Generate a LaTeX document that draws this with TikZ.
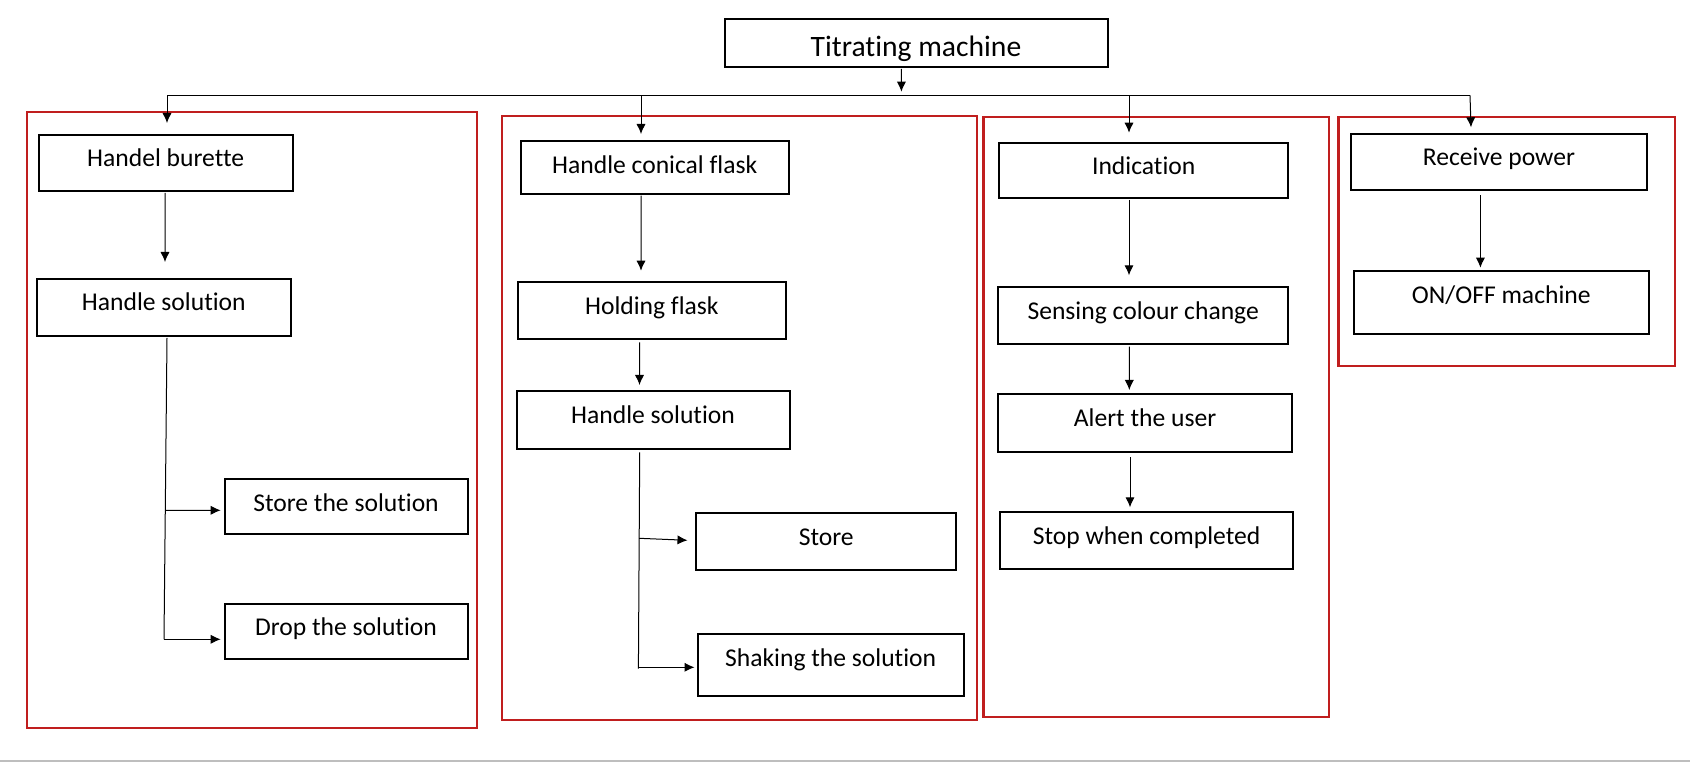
\documentclass[tikz,border=0pt]{standalone}
\usepackage{fontspec}
\setmainfont{Carlito}[Ligatures=NoCommon]
\usetikzlibrary{arrows.meta}
\definecolor{framered}{RGB}{192,30,30}
\definecolor{rulegray}{RGB}{190,190,190}
\newcommand{\blockbox}[7]{%
  \node[box, minimum width={(#4-#2)*0.5pt}, minimum height={(#5-#3)*0.5pt}] (#1) at ({(#2+#4)/2},{(#3+#5)/2}) {};
  \node[txt] (#1-t) at ({(#2+#4)/2},#7) {#6};
}
\begin{document}
\begin{tikzpicture}[x=0.5pt,y=-0.5pt,
  box/.style={draw=black, line width=1pt, inner sep=0pt, outer sep=0pt},
  txt/.style={anchor=base, inner sep=0pt, font=\fontsize{12.8}{15}\selectfont},
  frame/.style={draw=framered, line width=1.1pt},
  conn/.style={draw=black, line width=0.5pt},
  arr/.style={conn, -{Latex[length=5pt,width=4.6pt]}}]
\useasboundingbox (0,0) rectangle (1690,763);
% red frames
\draw[frame] (27,112) rectangle (477,727.7);
\draw[frame] (502,115.7) rectangle (977,720);
\draw[frame] (983.5,116.7) rectangle (1329,717);
\draw[frame] (1338.5,117.3) rectangle (1674.8,365.7);
% boxes
\node[box, minimum width={(1107.6-724.5)*0.5pt}, minimum height={(67-19.3)*0.5pt}] (title) at ({(724.5+1107.6)/2},{(19.3+67)/2}) {};
\node[txt, font=\fontsize{14.8}{17}\selectfont] (title-t) at (916,56.7) {Titrating machine};
\blockbox{hb}{38.5}{134.7}{292.8}{191}{Handel burette}{166.7}
\blockbox{hsa}{36.7}{278.7}{291}{336}{Handle solution}{311}
\blockbox{sts}{224.5}{478.7}{467.5}{534}{Store the solution}{511.7}
\blockbox{drop}{224.5}{603.7}{467.5}{658.7}{Drop the solution}{635.7}
\blockbox{hcf}{520.7}{140.7}{788.7}{194}{Handle conical flask}{173.3}
\blockbox{hf}{517.8}{281.7}{785.9}{339}{Holding flask}{314.3}
\blockbox{hsb}{516.6}{390.7}{789.5}{449}{Handle solution}{423.3}
\blockbox{store}{696.4}{512.7}{956}{570}{Store}{545.7}
\blockbox{shake}{697.7}{633.7}{963.6}{695.7}{Shaking the solution}{666}
\blockbox{ind}{999.4}{142.7}{1288}{198}{Indication}{174.7}
\blockbox{sens}{998.4}{286.7}{1288}{343.7}{Sensing colour change}{319.3}
\blockbox{alert}{997.7}{393.7}{1292.3}{452}{Alert the user}{426.7}
\blockbox{stop}{999.7}{512}{1293.3}{569}{Stop when completed}{544.3}
\blockbox{rp}{1351.3}{133.7}{1646.5}{190}{Receive power}{165.7}
\blockbox{onoff}{1353.5}{270.7}{1649}{333.7}{ON/OFF machine}{303.3}
% bus
\coordinate (busL) at (167,95.3);
\coordinate (busT) at (901.4,95.3);
\coordinate (busB) at (641,95.3);
\coordinate (busC) at (1129,95.3);
\coordinate (busR) at (1470,95.3);
\draw[conn] (busL) -- (busR);
\draw[arr] ([shift={(-14.6,2)}]title.south) -- ([shift={(0,-3.6)}]busT);
\draw[arr] (busL) -- ([shift={(1.35,-11.7)}]hb.north);
\draw[arr] (busB) -- ([shift={(-13.7,-6.7)}]hcf.north);
\draw[arr] (busC) -- ([shift={(-14.7,-10)}]ind.north);
\draw[arr] (busR) -- ([shift={(-27.9,-6.4)}]rp.north);
% vertical arrows
\draw[arr] ([shift={(-0.65,2)}]hb.south) -- ([shift={(1.15,-16.7)}]hsa.north);
\draw[arr] ([shift={(-13.7,1.7)}]hcf.south) -- ([shift={(-10.85,-11)}]hf.north);
\draw[arr] ([shift={(-12.35,3.3)}]hf.south) -- ([shift={(-13.55,-5.7)}]hsb.north);
\draw[arr] ([shift={(-14.7,2)}]ind.south) -- ([shift={(-14.2,-11.4)}]sens.north);
\draw[arr] ([shift={(-13.9,3)}]sens.south) -- ([shift={(-15.7,-3.7)}]alert.north);
\draw[arr] ([shift={(-15,5.3)}]alert.south) -- ([shift={(-16.5,-4.7)}]stop.north);
\draw[arr] ([shift={(-18.5,5.3)}]rp.south) -- ([shift={(-20.85,-3)}]onoff.north);
% left branches
\coordinate (la) at (165.8,510.3);
\coordinate (lb) at (164,639.3);
\draw[conn] ([shift={(3.15,2)}]hsa.south) -- (lb);
\draw[arr] (la) -- ([shift={(-3.8,3.95)}]sts.west);
\draw[arr] (lb) -- ([shift={(-3.8,8.1)}]drop.west);
% middle branches
\coordinate (ma) at (639.2,538.3);
\coordinate (mb) at (638.4,667.3);
\draw[conn] ([shift={(-13.35,3.3)}]hsb.south) -- ([shift={(0,1.4)}]mb);
\draw[arr] (ma) -- ([shift={(-8.9,-1.05)}]store.west);
\draw[arr] (mb) -- ([shift={(-3.2,2.6)}]shake.west);
% bottom rule
\draw[rulegray, line width=0.8pt] (0,761) -- (1690,761);
\end{tikzpicture}
\end{document}
